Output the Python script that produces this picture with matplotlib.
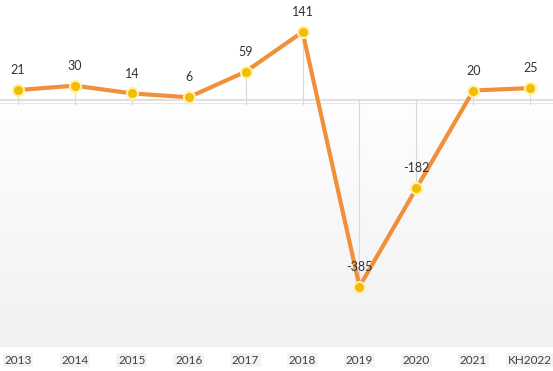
import numpy as np
import matplotlib.pyplot as plt

years = ['2013', '2014', '2015', '2016', '2017', '2018', '2019', '2020', '2021', 'KH2022']
values = [21, 30, 14, 6, 59, 141, -385, -182, 20, 25]

plt.rcParams['font.family'] = ['Lato', 'DejaVu Sans']

fig = plt.figure(figsize=(5.53, 3.71), dpi=100)
ax = fig.add_axes([0, 24 / 371, 1, 347 / 371])

x = np.arange(len(years))

# background gradient: white on top, light grey at the bottom
grad = np.linspace(0, 1, 256).reshape(-1, 1)
grad = np.clip((grad - 0.25) / 0.75, 0, 1)
top = np.array([1.0, 1.0, 1.0])
bot = np.array([0.945, 0.945, 0.945])
img = top + (bot - top) * grad[:, :, None]
ax.imshow(img, extent=[0, 1, 0, 1], transform=ax.transAxes, aspect='auto', zorder=0)

# zero line and drop lines
ax.axhline(0, color='#d9d9d9', lw=1.2, zorder=1)
ax.axhline(-6, color='#e8e8e8', lw=0.8, zorder=1)
for xi, v in zip(x, values):
    ax.plot([xi, xi], [0, v], color='#d9d9d9', lw=0.8, zorder=1)
    ax.plot([xi, xi], [0, -8], color='#d9d9d9', lw=0.8, zorder=1)

ax.plot(x, values, color='#f0903a', lw=3, zorder=2, solid_capstyle='round')
ax.plot(x, values, 'o', ms=8, mfc='#f2bd00', mec='#fff2a8', mew=1.5, zorder=3)

for xi, v in zip(x, values):
    ax.annotate(str(v), (xi, v), xytext=(0, 10), textcoords='offset points',
                ha='center', va='bottom', fontsize=9, color='#333333', zorder=4)

ax.set_xlim(-0.316, 9.4)
ax.set_ylim(-510, 207)
ax.axis('off')

for xi, lab in zip(x, years):
    fig.text(ax.transData.transform((xi, 0))[0] / 553, 11 / 371, lab,
             ha='center', va='center', fontsize=8.5, color='#404040',
             bbox=dict(boxstyle='square,pad=0.15', fc='#f3f3f3', ec='none'))

fig.savefig('out.png', dpi=100)
